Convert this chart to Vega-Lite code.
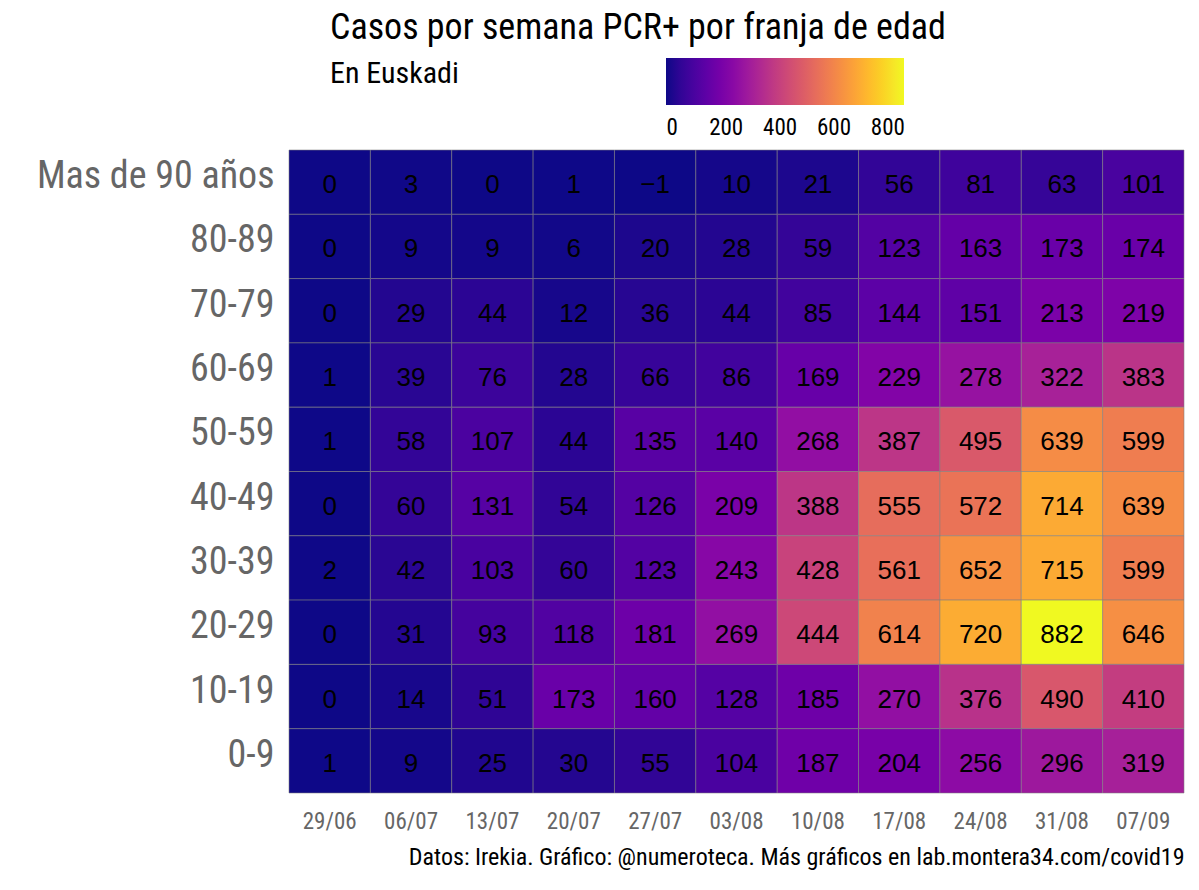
{
  "$schema": "https://vega.github.io/schema/vega-lite/v6.json",
  "width": 895,
  "height": 643,
  "autosize": {"type": "none"},
  "padding": {"left": 289, "top": 150, "right": 15, "bottom": 97},
  "background": "white",
  "config": {
    "font": "Roboto Condensed, Liberation Sans Narrow, Roboto",
    "view": {"stroke": null}
  },
  "title": {
    "text": "Casos por semana PCR+ por franja de edad",
    "subtitle": "En Euskadi",
    "anchor": "start",
    "frame": "group",
    "dx": 41,
    "offset": -32,
    "fontSize": 36,
    "fontWeight": "normal",
    "color": "black",
    "subtitleFontSize": 30,
    "subtitleColor": "black",
    "subtitlePadding": 12
  },
  "data": {
    "values": [
      {"edad": "Mas de 90 años", "semana": "29/06", "casos": 0},
      {"edad": "Mas de 90 años", "semana": "06/07", "casos": 3},
      {"edad": "Mas de 90 años", "semana": "13/07", "casos": 0},
      {"edad": "Mas de 90 años", "semana": "20/07", "casos": 1},
      {"edad": "Mas de 90 años", "semana": "27/07", "casos": -1},
      {"edad": "Mas de 90 años", "semana": "03/08", "casos": 10},
      {"edad": "Mas de 90 años", "semana": "10/08", "casos": 21},
      {"edad": "Mas de 90 años", "semana": "17/08", "casos": 56},
      {"edad": "Mas de 90 años", "semana": "24/08", "casos": 81},
      {"edad": "Mas de 90 años", "semana": "31/08", "casos": 63},
      {"edad": "Mas de 90 años", "semana": "07/09", "casos": 101},
      {"edad": "80-89", "semana": "29/06", "casos": 0},
      {"edad": "80-89", "semana": "06/07", "casos": 9},
      {"edad": "80-89", "semana": "13/07", "casos": 9},
      {"edad": "80-89", "semana": "20/07", "casos": 6},
      {"edad": "80-89", "semana": "27/07", "casos": 20},
      {"edad": "80-89", "semana": "03/08", "casos": 28},
      {"edad": "80-89", "semana": "10/08", "casos": 59},
      {"edad": "80-89", "semana": "17/08", "casos": 123},
      {"edad": "80-89", "semana": "24/08", "casos": 163},
      {"edad": "80-89", "semana": "31/08", "casos": 173},
      {"edad": "80-89", "semana": "07/09", "casos": 174},
      {"edad": "70-79", "semana": "29/06", "casos": 0},
      {"edad": "70-79", "semana": "06/07", "casos": 29},
      {"edad": "70-79", "semana": "13/07", "casos": 44},
      {"edad": "70-79", "semana": "20/07", "casos": 12},
      {"edad": "70-79", "semana": "27/07", "casos": 36},
      {"edad": "70-79", "semana": "03/08", "casos": 44},
      {"edad": "70-79", "semana": "10/08", "casos": 85},
      {"edad": "70-79", "semana": "17/08", "casos": 144},
      {"edad": "70-79", "semana": "24/08", "casos": 151},
      {"edad": "70-79", "semana": "31/08", "casos": 213},
      {"edad": "70-79", "semana": "07/09", "casos": 219},
      {"edad": "60-69", "semana": "29/06", "casos": 1},
      {"edad": "60-69", "semana": "06/07", "casos": 39},
      {"edad": "60-69", "semana": "13/07", "casos": 76},
      {"edad": "60-69", "semana": "20/07", "casos": 28},
      {"edad": "60-69", "semana": "27/07", "casos": 66},
      {"edad": "60-69", "semana": "03/08", "casos": 86},
      {"edad": "60-69", "semana": "10/08", "casos": 169},
      {"edad": "60-69", "semana": "17/08", "casos": 229},
      {"edad": "60-69", "semana": "24/08", "casos": 278},
      {"edad": "60-69", "semana": "31/08", "casos": 322},
      {"edad": "60-69", "semana": "07/09", "casos": 383},
      {"edad": "50-59", "semana": "29/06", "casos": 1},
      {"edad": "50-59", "semana": "06/07", "casos": 58},
      {"edad": "50-59", "semana": "13/07", "casos": 107},
      {"edad": "50-59", "semana": "20/07", "casos": 44},
      {"edad": "50-59", "semana": "27/07", "casos": 135},
      {"edad": "50-59", "semana": "03/08", "casos": 140},
      {"edad": "50-59", "semana": "10/08", "casos": 268},
      {"edad": "50-59", "semana": "17/08", "casos": 387},
      {"edad": "50-59", "semana": "24/08", "casos": 495},
      {"edad": "50-59", "semana": "31/08", "casos": 639},
      {"edad": "50-59", "semana": "07/09", "casos": 599},
      {"edad": "40-49", "semana": "29/06", "casos": 0},
      {"edad": "40-49", "semana": "06/07", "casos": 60},
      {"edad": "40-49", "semana": "13/07", "casos": 131},
      {"edad": "40-49", "semana": "20/07", "casos": 54},
      {"edad": "40-49", "semana": "27/07", "casos": 126},
      {"edad": "40-49", "semana": "03/08", "casos": 209},
      {"edad": "40-49", "semana": "10/08", "casos": 388},
      {"edad": "40-49", "semana": "17/08", "casos": 555},
      {"edad": "40-49", "semana": "24/08", "casos": 572},
      {"edad": "40-49", "semana": "31/08", "casos": 714},
      {"edad": "40-49", "semana": "07/09", "casos": 639},
      {"edad": "30-39", "semana": "29/06", "casos": 2},
      {"edad": "30-39", "semana": "06/07", "casos": 42},
      {"edad": "30-39", "semana": "13/07", "casos": 103},
      {"edad": "30-39", "semana": "20/07", "casos": 60},
      {"edad": "30-39", "semana": "27/07", "casos": 123},
      {"edad": "30-39", "semana": "03/08", "casos": 243},
      {"edad": "30-39", "semana": "10/08", "casos": 428},
      {"edad": "30-39", "semana": "17/08", "casos": 561},
      {"edad": "30-39", "semana": "24/08", "casos": 652},
      {"edad": "30-39", "semana": "31/08", "casos": 715},
      {"edad": "30-39", "semana": "07/09", "casos": 599},
      {"edad": "20-29", "semana": "29/06", "casos": 0},
      {"edad": "20-29", "semana": "06/07", "casos": 31},
      {"edad": "20-29", "semana": "13/07", "casos": 93},
      {"edad": "20-29", "semana": "20/07", "casos": 118},
      {"edad": "20-29", "semana": "27/07", "casos": 181},
      {"edad": "20-29", "semana": "03/08", "casos": 269},
      {"edad": "20-29", "semana": "10/08", "casos": 444},
      {"edad": "20-29", "semana": "17/08", "casos": 614},
      {"edad": "20-29", "semana": "24/08", "casos": 720},
      {"edad": "20-29", "semana": "31/08", "casos": 882},
      {"edad": "20-29", "semana": "07/09", "casos": 646},
      {"edad": "10-19", "semana": "29/06", "casos": 0},
      {"edad": "10-19", "semana": "06/07", "casos": 14},
      {"edad": "10-19", "semana": "13/07", "casos": 51},
      {"edad": "10-19", "semana": "20/07", "casos": 173},
      {"edad": "10-19", "semana": "27/07", "casos": 160},
      {"edad": "10-19", "semana": "03/08", "casos": 128},
      {"edad": "10-19", "semana": "10/08", "casos": 185},
      {"edad": "10-19", "semana": "17/08", "casos": 270},
      {"edad": "10-19", "semana": "24/08", "casos": 376},
      {"edad": "10-19", "semana": "31/08", "casos": 490},
      {"edad": "10-19", "semana": "07/09", "casos": 410},
      {"edad": "0-9", "semana": "29/06", "casos": 1},
      {"edad": "0-9", "semana": "06/07", "casos": 9},
      {"edad": "0-9", "semana": "13/07", "casos": 25},
      {"edad": "0-9", "semana": "20/07", "casos": 30},
      {"edad": "0-9", "semana": "27/07", "casos": 55},
      {"edad": "0-9", "semana": "03/08", "casos": 104},
      {"edad": "0-9", "semana": "10/08", "casos": 187},
      {"edad": "0-9", "semana": "17/08", "casos": 204},
      {"edad": "0-9", "semana": "24/08", "casos": 256},
      {"edad": "0-9", "semana": "31/08", "casos": 296},
      {"edad": "0-9", "semana": "07/09", "casos": 319}
    ]
  },
  "encoding": {
    "x": {
      "field": "semana",
      "type": "ordinal",
      "sort": null,
      "title": "Datos: Irekia. Gráfico: @numeroteca. Más gráficos en lab.montera34.com/covid19",
      "axis": {
        "orient": "bottom",
        "labelAngle": 0,
        "labelFontSize": 23,
        "labelColor": "#666666",
        "labelPadding": 17,
        "domain": false,
        "ticks": false,
        "titleFontSize": 24,
        "titleFontWeight": "normal",
        "titleColor": "black",
        "titleAnchor": "end",
        "titleAlign": "right",
        "titlePadding": 12
      }
    },
    "y": {
      "field": "edad",
      "type": "ordinal",
      "sort": ["Mas de 90 años", "80-89", "70-79", "60-69", "50-59", "40-49", "30-39", "20-29", "10-19", "0-9"],
      "title": null,
      "axis": {
        "labelFontSize": 38,
        "labelColor": "#666666",
        "labelPadding": 15,
        "labelBaseline": "middle",
        "labelOffset": -5,
        "labelLimit": 400,
        "domain": false,
        "ticks": false
      }
    }
  },
  "layer": [
    {
      "mark": {"type": "rect", "stroke": "#808080", "strokeOpacity": 0.7, "strokeWidth": 0.8},
      "encoding": {
        "color": {
          "field": "casos",
          "type": "quantitative",
          "scale": {"scheme": "plasma", "domain": [-1, 882], "nice": false},
          "legend": {
            "orient": "none",
            "legendX": 377,
            "legendY": -92,
            "direction": "horizontal",
            "title": null,
            "gradientLength": 238,
            "gradientThickness": 47,
            "gradientStrokeWidth": 0,
            "values": [0, 200, 400, 600, 800],
            "labelFontSize": 23,
            "labelColor": "black",
            "labelOffset": 12,
            "encode": {
              "labels": {"update": {"align": {"value": "center"}, "dx": {"value": 6}}}
            }
          }
        }
      }
    },
    {
      "mark": {"type": "text", "font": "Liberation Sans", "fontSize": 26, "color": "black", "baseline": "middle", "dy": 3},
      "encoding": {
        "text": {"field": "casos", "type": "quantitative"}
      }
    }
  ]
}
